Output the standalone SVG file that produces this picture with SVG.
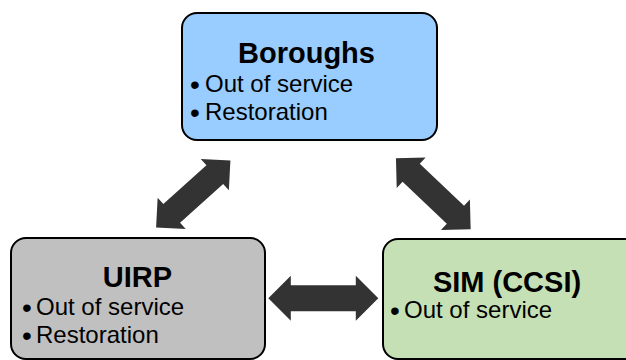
<svg xmlns="http://www.w3.org/2000/svg" width="626" height="360" viewBox="0 0 626 360">
<style>
.box{stroke:#000;stroke-width:2}
.title{font-family:"Liberation Sans",Arial,sans-serif;font-weight:bold;font-size:29px;fill:#000;text-anchor:middle}
.body{font-family:"Liberation Sans",Arial,sans-serif;font-size:24px;fill:#000}
.b{font-size:28px;text-anchor:middle}
.arrow{fill:#333333}
</style>
<rect width="626" height="360" fill="#fff"/>
<g id="connectors">
<path class="arrow" transform="translate(193.25,194) rotate(-42)" d="M50,0 L29,-21 L29,-12.5 L-29,-12.5 L-29,-21 L-50,0 L-29,21 L-29,12.5 L29,12.5 L29,21 Z"/>
<path class="arrow" transform="translate(433.3,193.8) rotate(43.5)" d="M51.5,0 L30.5,-21 L30.5,-12.5 L-30.5,-12.5 L-30.5,-21 L-51.5,0 L-30.5,21 L-30.5,12.5 L30.5,12.5 L30.5,21 Z"/>
<path class="arrow" transform="translate(323.3,298.3)" d="M55,0 L32.5,-22.5 L32.5,-13 L-32.5,-13 L-32.5,-22.5 L-55,0 L-32.5,22.5 L-32.5,13 L32.5,13 L32.5,22.5 Z"/>
</g>
<g id="boroughs">
<rect class="box" x="182" y="13" width="255" height="127" rx="15" fill="#99CCFF"/>
<text class="title" x="306.5" y="63">Boroughs</text>
<text class="body" y="91.5"><tspan class="b" x="195" dy="2">•</tspan><tspan x="205" dy="-2">Out of service</tspan></text>
<text class="body" y="119.5"><tspan class="b" x="195" dy="2">•</tspan><tspan x="205" dy="-2">Restoration</tspan></text>
</g>
<g id="uirp">
<rect class="box" x="11" y="238" width="254" height="121" rx="15" fill="#C0C0C0"/>
<text class="title" x="137.5" y="287">UIRP</text>
<text class="body" y="315"><tspan class="b" x="27" dy="2">•</tspan><tspan x="36" dy="-2">Out of service</tspan></text>
<text class="body" y="343"><tspan class="b" x="27" dy="2">•</tspan><tspan x="36" dy="-2">Restoration</tspan></text>
</g>
<g id="sim">
<rect class="box" x="383" y="239" width="260" height="120" rx="15" fill="#C5E0B4"/>
<text class="title" x="507" y="292">SIM (CCSI)</text>
<text class="body" y="318"><tspan class="b" x="395" dy="2">•</tspan><tspan x="404" dy="-2">Out of service</tspan></text>
</g>
</svg>
